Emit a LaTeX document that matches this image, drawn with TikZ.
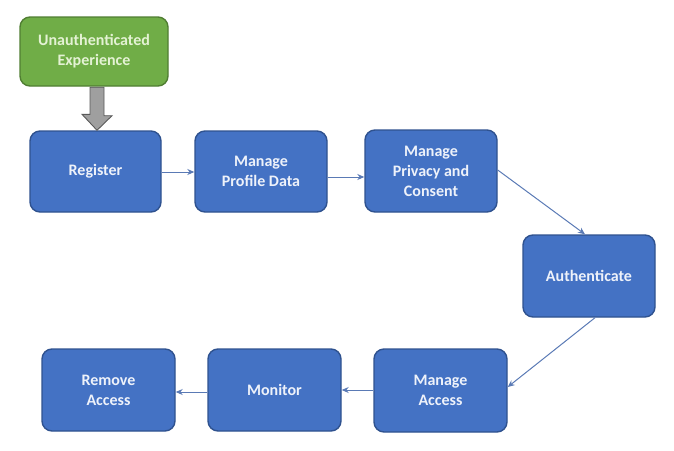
\documentclass[tikz,border=0pt]{standalone}
\usepackage{fontspec}
\setmainfont{Carlito}
\usetikzlibrary{arrows.meta}
\definecolor{bfill}{HTML}{4472C4}
\definecolor{bdraw}{HTML}{2F528F}
\definecolor{gfill}{HTML}{70AD47}
\definecolor{gdraw}{HTML}{507E32}
\definecolor{btext}{HTML}{EEF2FA}
\definecolor{gtext}{HTML}{E4F2D4}
\definecolor{lcol}{HTML}{5A7AB5}
\begin{document}
\begin{tikzpicture}[x=1pt,y=-1pt,
  box/.style={draw=bdraw,fill=bfill,line width=1.4pt,rounded corners=10pt,
    text=btext,font=\fontsize{16}{20}\selectfont\bfseries,align=center,inner sep=0pt},
  gbox/.style={box,draw=gdraw,fill=gfill,text=gtext},
  conn/.style={draw=lcol,line width=1pt,-{Stealth[length=7pt,width=6pt]}}]
\useasboundingbox (0,0) rectangle (674,450);
\node[gbox,minimum width=148pt,minimum height=69pt] (u) at (94,51.5) {Unauthenticated\\Experience};
\node[box,minimum width=131pt,minimum height=81pt] (reg) at (95.5,171.5) {Register};
\node[box,minimum width=132pt,minimum height=81pt] (prof) at (261,171.5) {Manage\\Profile Data};
\node[box,minimum width=132pt,minimum height=82pt] (priv) at (431,171) {Manage\\Privacy and\\Consent};
\node[box,minimum width=132pt,minimum height=82pt] (auth) at (589,276) {Authenticate};
\node[box,minimum width=133pt,minimum height=83pt] (acc) at (440.5,390.5) {Manage\\Access};
\node[box,minimum width=133pt,minimum height=82pt] (mon) at (274.5,390) {Monitor};
\node[box,minimum width=133pt,minimum height=82pt] (rem) at (108.5,390) {Remove\\Access};
% gray block arrow from u to reg
\filldraw[fill=gray!75,draw=black!65,line width=0.9pt]
  (u.south -| 97,0) ++(-7,0.5) -- ++(14,0) -- ++(0,28.5) -- ++(8,0)
  -- (reg.north -| 97,0) -- ++(-15,-16) -- ++(8,0) -- cycle;
\draw[conn] (reg.east |- 0,172) -- (prof.west |- 0,172);
\draw[conn] (prof.east |- 0,177) -- (priv.west |- 0,177);
\draw[conn] (priv.east |- 0,170) -- (auth.north -| 585,0);
\draw[conn] (auth.south -| 595,0) -- (acc.east |- 0,387);
\draw[conn] (acc.west |- 0,390) -- (mon.east |- 0,390);
\draw[conn] (mon.west |- 0,392) -- (rem.east |- 0,392);
\end{tikzpicture}
\end{document}
